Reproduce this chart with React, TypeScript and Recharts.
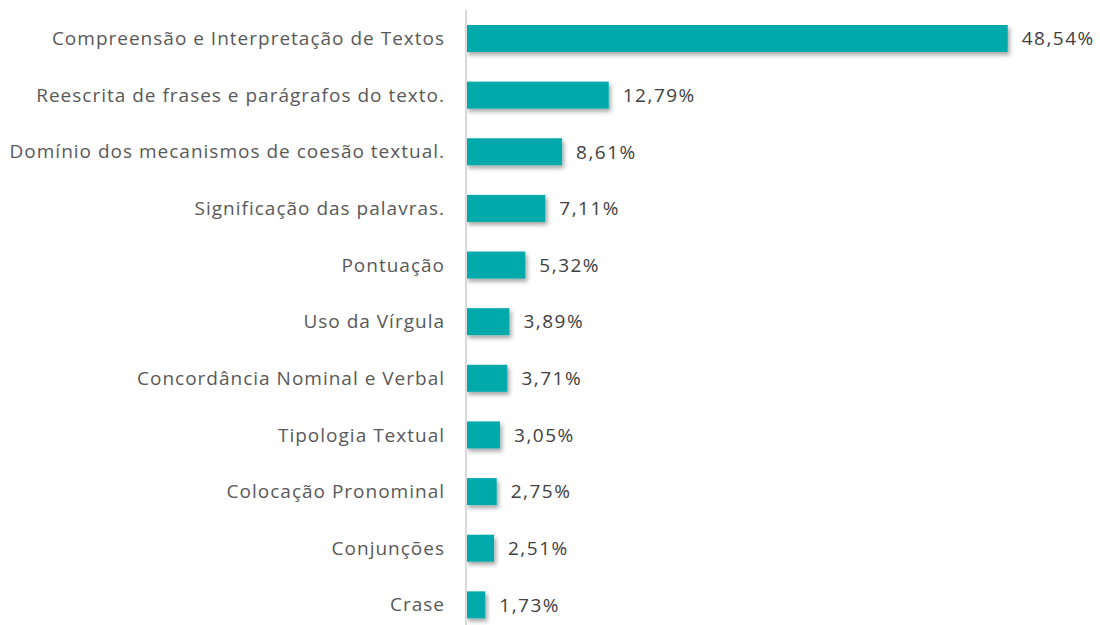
import React from "react";
import { BarChart, Bar, XAxis, YAxis, LabelList } from "recharts";

const categories = [
  "Compreensão e Interpretação de Textos",
  "Reescrita de frases e parágrafos do texto.",
  "Domínio dos mecanismos de coesão textual.",
  "Significação das palavras.",
  "Pontuação",
  "Uso da Vírgula",
  "Concordância Nominal e Verbal",
  "Tipologia Textual",
  "Colocação Pronominal",
  "Conjunções",
  "Crase",
];
const values = [48.54, 12.79, 8.61, 7.11, 5.32, 3.89, 3.71, 3.05, 2.75, 2.51, 1.73];

const data = categories.map((c, i) => ({ name: c, value: values[i] }));

const FONT = "'Open Sans', sans-serif";

const fmt = (v: number) => v.toFixed(2).replace(".", ",") + "%";

const ShadowBar = (props: any) => {
  const { x, y, width, height } = props;
  return (
    <rect x={x} y={y} width={width} height={height} fill="#00AAAA" filter="url(#barShadow)" />
  );
};

export default function App() {
  return (
    <div style={{ position: "absolute", left: 0, top: 0, width: 1100, height: 625, overflow: "hidden", background: "#fff" }}>
      <svg width="0" height="0" style={{ position: "absolute" }}>
        <defs>
          <filter id="barShadow" x="-10%" y="-20%" width="130%" height="160%">
            <feDropShadow dx="2" dy="3" stdDeviation="2" floodColor="#000" floodOpacity="0.35" />
          </filter>
        </defs>
      </svg>
      <BarChart
        width={1100}
        height={650}
        data={data}
        layout="vertical"
        margin={{ top: 10, right: 76, bottom: 17, left: 0 }}
        barCategoryGap={0}
      >
        <XAxis type="number" domain={[0, 50]} hide />
        <YAxis
          type="category"
          dataKey="name"
          width={466}
          tickLine={false}
          tickSize={0}
          tickMargin={21}
          axisLine={{ stroke: "#d9d9d9", strokeWidth: 2 }}
          interval={0}
          tick={{ fill: "#595959", fontSize: 19, fontFamily: FONT, letterSpacing: 1 }}
        />
        <Bar dataKey="value" barSize={27} isAnimationActive={false} shape={<ShadowBar />}>
          <LabelList
            dataKey="value"
            position="right"
            offset={14}
            formatter={(v: any) => fmt(Number(v))}
            style={{ fill: "#404040", fontSize: 19, fontFamily: FONT, letterSpacing: 1.5 }}
          />
        </Bar>
      </BarChart>
    </div>
  );
}
